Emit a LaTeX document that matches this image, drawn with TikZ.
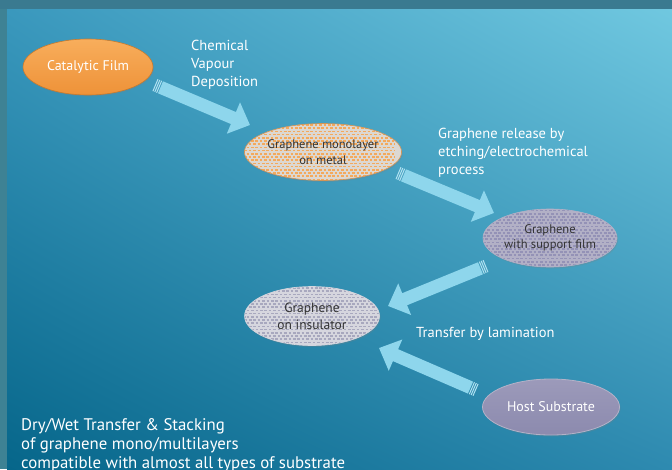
\documentclass[tikz,border=0pt]{standalone}
\usepackage{fontspec}
\setmainfont{PT Sans}
\usetikzlibrary{shapes.geometric,arrows.meta,calc,shadows,shadings}
\definecolor{bgUL}{HTML}{3A98BD}
\definecolor{bgUR}{HTML}{70C8E0}
\definecolor{bgLL}{HTML}{06668A}
\definecolor{bgLR}{HTML}{2E8AB0}
\definecolor{topband}{HTML}{3A7A90}
\definecolor{leftstrip}{HTML}{3E8294}
\definecolor{arrowcol}{HTML}{8ED6EC}
\definecolor{orangeA}{HTML}{F8AE5C}
\definecolor{orangeB}{HTML}{EE9238}
\definecolor{orangeEdge}{HTML}{C97A2C}
\definecolor{cellOrange}{HTML}{F4A95C}
\definecolor{gridLight}{HTML}{DCD8D2}
\definecolor{cellPurple}{HTML}{9492B6}
\definecolor{gridPurple}{HTML}{B2B0C6}
\definecolor{cellGrey}{HTML}{A8A8BE}
\definecolor{gridGrey}{HTML}{D6D6DE}
\definecolor{hostA}{HTML}{9C9ABA}
\definecolor{hostB}{HTML}{8C8AAE}
\definecolor{hostEdge}{HTML}{B4B2C8}
\definecolor{darktext}{HTML}{333333}
\tikzset{
  oval/.style={ellipse, inner sep=0pt, align=center,
    drop shadow={opacity=0.25, shadow xshift=1pt, shadow yshift=-1.5pt}},
  brick/.style n args={2}{path picture={
    \fill[#1] (path picture bounding box.south west) rectangle (path picture bounding box.north east);
    \foreach \r in {0,...,22}{
      \pgfmathsetmacro\ph{mod(\r,2)*2.2}
      \draw[#2, line width=1.7pt, dash pattern=on 2.6pt off 1.8pt, dash phase=\ph pt]
        ($(path picture bounding box.north west)+(0,\r*3.2+1.5)$) -- ++(150,0);
    }}},
  lbl/.style={text=white, align=left, inner sep=0pt, anchor=north west},
  bigarrow/.style={draw=arrowcol, line width=13pt, -{Triangle[length=18pt,width=33pt]}},
  stripes/.style={draw=arrowcol!70!white, line width=13pt, dash pattern=on 1pt off 1pt}
}
\begin{document}
\begin{tikzpicture}[x=1pt,y=-1pt]
\useasboundingbox (0,0) rectangle (672,469);
\shade[upper left=bgUL, upper right=bgUR, lower left=bgLL, lower right=bgLR] (7,9) rectangle (672,469);
\fill[topband] (0,0) rectangle (672,9);
\fill[leftstrip] (0,9) rectangle (7,469);

% ovals
\node[oval, minimum width=130pt, minimum height=56pt, top color=orangeA, bottom color=orangeB,
  draw=orangeEdge, line width=0.6pt, text=white, font=\fontsize{14}{16}\selectfont] (cat) at (88,67) {Catalytic Film};
\node[oval, minimum width=130pt, minimum height=57pt, brick={gridLight}{cellOrange},
  draw=orangeEdge!80, line width=0.6pt, text=darktext, font=\fontsize{12.5}{16}\selectfont] (mono) at (323,152) {Graphene monolayer\\on metal};
\node[oval, minimum width=134pt, minimum height=58pt, brick={gridPurple}{cellPurple},
  draw=gridPurple, line width=0.6pt, text=darktext, font=\fontsize{12.5}{15}\selectfont] (supp) at (550,238) {Graphene\\with support film};
\node[oval, minimum width=135pt, minimum height=59pt, brick={gridGrey}{cellGrey},
  draw=gridGrey, line width=0.6pt, text=darktext, font=\fontsize{13.5}{17}\selectfont] (ins) at (312,316) {Graphene\\on insulator};
\node[oval, minimum width=137pt, minimum height=56pt, top color=hostA, bottom color=hostB,
  draw=hostEdge, line width=0.8pt, text=white, font=\fontsize{14}{16}\selectfont] (host) at (551,407) {Host Substrate};

% arrows
\coordinate (t1) at (155,85);  \coordinate (h1) at (250,125);
\coordinate (t2) at (398,173); \coordinate (h2) at (494,213);
\coordinate (t3) at (486,266); \coordinate (h3) at (388,306);
\coordinate (t4) at (476,390); \coordinate (h4) at (379,348);
\foreach \i in {1,...,4}{
  \draw[stripes] (t\i) -- ($(t\i)!6pt!(h\i)$);
  \draw[bigarrow] ($(t\i)!6pt!(h\i)$) -- (h\i);
}

% labels
\node[lbl, font=\fontsize{14.5}{18}\selectfont] (cvd) at (191,40) {Chemical\\Vapour\\Deposition};
\node[lbl, font=\fontsize{14.5}{18}\selectfont] (rel) at (438,127.5) {Graphene release by\\etching/electrochemical\\process};
\node[lbl, font=\fontsize{14.5}{18}\selectfont] (lam) at (416,327.5) {Transfer by lamination};
\node[lbl, font=\fontsize{16.8}{19}\selectfont] (dry) at (21,418.5) {Dry/Wet Transfer \& Stacking\\of graphene mono/multilayers\\compatible with almost all types of substrate};
\end{tikzpicture}
\end{document}
